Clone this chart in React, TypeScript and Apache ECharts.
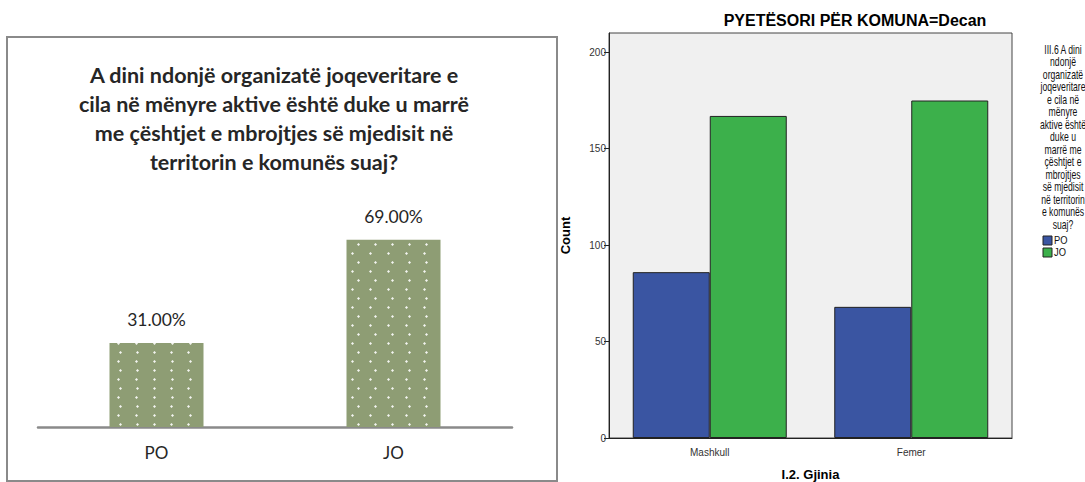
import React, { useEffect, useRef } from "react";
import * as echarts from "echarts";

const leftCategories = ["PO", "JO"];
const leftValues = [31, 69];
const leftTitleLines = [
  "A dini ndonjë organizatë joqeveritare e",
  "cila në mënyre aktive është duke u marrë",
  "me çështjet e mbrojtjes së mjedisit në",
  "territorin e komunës suaj?",
];

const rightCategories = ["Mashkull", "Femer"];
const poValues = [86, 68];
const joValues = [167, 175];
const rightTicks = [0, 50, 100, 150, 200];
const rightTitle = "PYETËSORI PËR KOMUNA=Decan";
const legendTitleLines = [
  "III.6 A dini",
  "ndonjë",
  "organizatë",
  "joqeveritare",
  "e cila në",
  "mënyre",
  "aktive është",
  "duke u",
  "marrë me",
  "çështjet e",
  "mbrojtjes",
  "së mjedisit",
  "në territorin",
  "e komunës",
  "suaj?",
];
const legendNames = ["PO", "JO"];

export default function App() {
  const ref = useRef<HTMLDivElement>(null);
  useEffect(() => {
    if (!ref.current) return;
    const chart = echarts.init(ref.current, null, { renderer: "svg" });
    const arial = "'Liberation Sans', Arial, sans-serif";
    const calibri = "Lato, 'Open Sans', sans-serif";
    chart.setOption({
      animation: false,
      backgroundColor: "#ffffff",
      grid: [
        {
          left: 38,
          width: 474,
          top: 210,
          height: 217,
          containLabel: false,
          outerBoundsMode: "none",
        },
        {
          left: 609,
          width: 403,
          top: 33,
          height: 405,
          containLabel: false,
          outerBoundsMode: "none",
          show: true,
          backgroundColor: "#f0f0f0",
          borderColor: "#444444",
          borderWidth: 1,
        },
      ],
      xAxis: [
        {
          gridIndex: 0,
          type: "category",
          data: leftCategories,
          axisLine: { lineStyle: { color: "#8a8a8a", width: 2.5 } },
          axisTick: { show: false },
          axisLabel: {
            fontFamily: calibri,
            fontSize: 17,
            color: "#262626",
            margin: 17,
          },
        },
        {
          gridIndex: 1,
          type: "category",
          data: rightCategories,
          name: "I.2. Gjinia",
          nameLocation: "middle",
          nameGap: 30,
          nameTextStyle: {
            fontFamily: arial,
            fontSize: 13,
            fontWeight: "bold",
            color: "#000",
          },
          axisLine: { lineStyle: { color: "#222", width: 1 } },
          axisTick: { alignWithLabel: true, length: 5, lineStyle: { color: "#222" } },
          axisLabel: {
            fontFamily: arial,
            fontSize: 10,
            color: "#333",
            margin: 9,
          },
        },
      ],
      yAxis: [
        {
          gridIndex: 0,
          type: "value",
          min: 0,
          max: 80,
          show: false,
          splitLine: { show: false },
        },
        {
          gridIndex: 1,
          type: "value",
          min: 0,
          max: 210,
          interval: 50,
          name: "Count",
          nameLocation: "middle",
          nameGap: 37,
          nameRotate: 90,
          nameTextStyle: {
            fontFamily: arial,
            fontSize: 13,
            fontWeight: "bold",
            color: "#000",
          },
          axisLine: { show: true, lineStyle: { color: "#222" } },
          axisTick: {
            show: true,
            length: 5,
            customValues: rightTicks,
            lineStyle: { color: "#222" },
          },
          axisLabel: {
            fontFamily: arial,
            fontSize: 10,
            color: "#333",
            margin: 3,
            customValues: rightTicks,
          },
          splitLine: { show: false },
        },
      ],
      series: [
        {
          type: "bar",
          xAxisIndex: 0,
          yAxisIndex: 0,
          data: leftValues,
          barWidth: 94,
          itemStyle: {
            color: "#8e9d74",
            decal: {
              symbol: "diamond",
              symbolSize: 1,
              color: "rgba(255,255,255,0.9)",
              dashArrayX: [
                [3, 14],
                [0, 8.5, 3, 5.5],
              ],
              dashArrayY: [3, 5.5],
              rotation: 0,
            },
          },
          label: {
            show: true,
            position: "top",
            distance: 14,
            fontFamily: calibri,
            fontSize: 17.5,
            color: "#262626",
            formatter: (p: any) => p.value.toFixed(2) + "%",
          },
        },
        {
          type: "bar",
          name: legendNames[0],
          xAxisIndex: 1,
          yAxisIndex: 1,
          data: poValues,
          barWidth: 77,
          barGap: "0%",
          itemStyle: { color: "#3a55a2", borderColor: "#222", borderWidth: 1 },
        },
        {
          type: "bar",
          name: legendNames[1],
          xAxisIndex: 1,
          yAxisIndex: 1,
          data: joValues,
          barWidth: 77,
          barGap: "0%",
          itemStyle: { color: "#3cb04b", borderColor: "#222", borderWidth: 1 },
        },
      ],
      graphic: [
        {
          type: "rect",
          shape: { x: 7, y: 37, width: 550, height: 444 },
          style: { fill: "none", stroke: "#8a8a8a", lineWidth: 2 },
          silent: true,
        },
        {
          type: "text",
          x: 274,
          y: 60,
          style: {
            text: leftTitleLines.join("\n"),
            fontFamily: calibri,
            fontSize: 21.5,
            fontWeight: "bold",
            lineHeight: 29,
            fill: "#262626",
            align: "center",
            verticalAlign: "top",
          },
        },
        {
          type: "text",
          x: 855,
          y: 20,
          style: {
            text: rightTitle,
            fontFamily: arial,
            fontSize: 16,
            fontWeight: "bold",
            fill: "#000",
            align: "center",
            verticalAlign: "middle",
          },
        },
        {
          type: "text",
          x: 1063,
          y: 43.5,
          scaleX: 0.72,
          style: {
            text: legendTitleLines.join("\n"),
            fontFamily: arial,
            fontSize: 12,
            lineHeight: 12.5,
            fill: "#111",
            align: "center",
            verticalAlign: "top",
          },
        },
        {
          type: "rect",
          shape: { x: 1043, y: 236, width: 9, height: 9 },
          style: { fill: "#3a55a2", stroke: "#222", lineWidth: 1 },
        },
        {
          type: "rect",
          shape: { x: 1043, y: 248, width: 9, height: 9 },
          style: { fill: "#3cb04b", stroke: "#222", lineWidth: 1 },
        },
        {
          type: "text",
          x: 1054,
          y: 240.5,
          scaleX: 0.85,
          style: {
            text: legendNames[0],
            fontFamily: arial,
            fontSize: 11,
            fill: "#111",
            verticalAlign: "middle",
          },
        },
        {
          type: "text",
          x: 1054,
          y: 252.5,
          scaleX: 0.85,
          style: {
            text: legendNames[1],
            fontFamily: arial,
            fontSize: 11,
            fill: "#111",
            verticalAlign: "middle",
          },
        },
      ],
    });
    return () => chart.dispose();
  }, []);
  return (
    <div
      ref={ref}
      style={{ position: "fixed", left: 0, top: 0, width: 1085, height: 482 }}
    />
  );
}
